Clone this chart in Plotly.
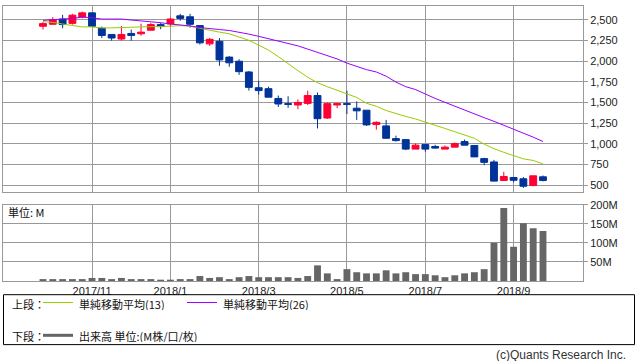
import plotly.graph_objects as go

weeks = [
    "2017/10/02", "2017/10/09", "2017/10/16", "2017/10/23", "2017/10/30",
    "2017/11/06", "2017/11/13", "2017/11/20", "2017/11/27", "2017/12/04",
    "2017/12/11", "2017/12/18", "2017/12/25", "2018/01/01", "2018/01/08",
    "2018/01/15", "2018/01/22", "2018/01/29", "2018/02/05", "2018/02/12",
    "2018/02/19", "2018/02/26", "2018/03/05", "2018/03/12", "2018/03/19",
    "2018/03/26", "2018/04/02", "2018/04/09", "2018/04/16", "2018/04/23",
    "2018/04/30", "2018/05/07", "2018/05/14", "2018/05/21", "2018/05/28",
    "2018/06/04", "2018/06/11", "2018/06/18", "2018/06/25", "2018/07/02",
    "2018/07/09", "2018/07/16", "2018/07/23", "2018/07/30", "2018/08/06",
    "2018/08/13", "2018/08/20", "2018/08/27", "2018/09/03", "2018/09/10",
    "2018/09/17", "2018/09/24",
]

opens = [2421, 2445, 2508, 2456, 2532, 2583, 2397, 2322, 2267, 2334,
         2330, 2373, 2441, 2449, 2547, 2536, 2429, 2208, 2239, 2048,
         1998, 1868, 1678, 1666, 1548, 1485, 1469, 1488, 1583, 1311,
         1469, 1485, 1430, 1406, 1232, 1216, 1062, 1050, 935, 990,
         967, 935, 959, 1026, 979, 820, 780, 556, 592, 576,
         494, 600]
highs = [2476, 2532, 2559, 2571, 2599, 2586, 2417, 2322, 2425, 2381,
         2452, 2460, 2460, 2524, 2571, 2571, 2429, 2279, 2279, 2059,
         2022, 1880, 1761, 1690, 1583, 1575, 1536, 1642, 1619, 1500,
         1493, 1642, 1512, 1406, 1271, 1288, 1098, 1050, 1003, 990,
         987, 979, 1014, 1050, 979, 830, 805, 660, 594, 598,
         612, 616]
lows = [2381, 2444, 2397, 2441, 2516, 2421, 2279, 2247, 2247, 2247,
        2306, 2373, 2385, 2417, 2488, 2405, 2200, 2184, 1943, 1931,
        1833, 1643, 1595, 1563, 1445, 1434, 1418, 1469, 1185, 1299,
        1430, 1359, 1288, 1216, 1169, 1062, 1026, 923, 935, 904,
        939, 935, 959, 983, 841, 740, 545, 556, 535, 466,
        486, 545]
closes = [2453, 2500, 2441, 2555, 2583, 2421, 2310, 2279, 2322, 2310,
          2350, 2441, 2417, 2508, 2516, 2445, 2220, 2263, 2014, 1979,
          1872, 1682, 1643, 1563, 1481, 1477, 1500, 1583, 1303, 1485,
          1485, 1477, 1398, 1228, 1259, 1066, 1038, 935, 983, 935,
          947, 959, 1003, 983, 841, 775, 548, 604, 558, 486,
          612, 556]

ma13 = [2476, 2468, 2448, 2429, 2413, 2413, 2401, 2401, 2401, 2409,
        2413, 2413, 2413, 2421, 2429, 2421, 2397, 2370, 2350, 2330,
        2290, 2251, 2192, 2133, 2054, 1967, 1884, 1805, 1738, 1690,
        1647, 1599, 1560, 1489, 1453, 1402, 1362, 1330, 1300, 1264,
        1224, 1185, 1145, 1106, 1066, 995, 940, 896, 857, 817,
        798, 756]
ma26 = [2492, 2504, 2508, 2516, 2532, 2524, 2508, 2508, 2508, 2496,
        2488, 2476, 2464, 2448, 2437, 2425, 2405, 2389, 2381, 2370,
        2350, 2326, 2299, 2271, 2239, 2212, 2184, 2145, 2105, 2065,
        2026, 1975, 1935, 1896, 1868, 1817, 1746, 1690, 1655, 1599,
        1548, 1501, 1453, 1410, 1362, 1315, 1271, 1224, 1183, 1131,
        1080, 1027]

volume_m = [5, 5, 5, 5, 5, 8, 8, 5, 8, 5,
            5, 5, 3, 2, 5, 5, 13, 8, 10, 5,
            10, 13, 10, 10, 10, 10, 8, 13, 41, 20,
            5, 31, 23, 20, 20, 28, 20, 23, 18, 18,
            15, 10, 15, 20, 23, 31, 100, 191, 90, 151,
            138, 131]

tick_weeks = ["2017/11/06", "2018/01/01", "2018/03/05", "2018/05/07", "2018/07/02", "2018/09/03"]
tick_labels = ["2017/11", "2018/1", "2018/3", "2018/5", "2018/7", "2018/9"]
price_ticks = [500, 750, 1000, 1250, 1500, 1750, 2000, 2250, 2500]
vol_ticks = [50, 100, 150, 200]
vol_tick_labels = ["50M", "100M", "150M", "200M"]

UP = "#FF0033"
DOWN = "#003399"
GREEN = "#99CC00"
PURPLE = "#9900FF"
GRID = "#999999"
TXT = "#222222"
FONT = "Liberation Sans, Arial, sans-serif"
JFONT = "Noto Sans CJK JP, sans-serif"

W, H = 638, 362
L, R, T, B = 3, 55, 0, 81
PH = H - T - B  # plot-area height in px


def px_x(p):
    return (p - L) / (W - L - R)


def px_y(p):
    return (PH - p) / PH


fig = go.Figure()
fig.add_trace(go.Candlestick(
    x=weeks, open=opens, high=highs, low=lows, close=closes,
    increasing=dict(line=dict(color=UP, width=1), fillcolor=UP),
    decreasing=dict(line=dict(color=DOWN, width=1), fillcolor=DOWN),
    whiskerwidth=0, xaxis="x", yaxis="y", showlegend=False,
))
fig.add_trace(go.Scatter(x=weeks, y=ma13, mode="lines", line=dict(color=GREEN, width=1),
                         xaxis="x", yaxis="y", showlegend=False))
fig.add_trace(go.Scatter(x=weeks, y=ma26, mode="lines", line=dict(color=PURPLE, width=1),
                         xaxis="x", yaxis="y", showlegend=False))
fig.add_trace(go.Bar(x=weeks, y=volume_m, marker=dict(color="#666666", line=dict(width=0)),
                     width=0.7, xaxis="x2", yaxis="y2", showlegend=False))

xr = [-4.08, 55.08]
axis_common = dict(showline=True, linecolor=GRID, linewidth=1, mirror=True,
                   gridcolor=GRID, gridwidth=1, zeroline=False)

fig.update_layout(
    width=W, height=H,
    margin=dict(l=L, r=R, t=T, b=B),
    paper_bgcolor="white", plot_bgcolor="white",
    showlegend=False,
    boxgap=0.3, boxgroupgap=0,
    font=dict(family=FONT, size=11, color=TXT),
    xaxis=dict(type="category", range=xr, domain=[0, 1], anchor="y",
               tickmode="array", tickvals=tick_weeks, ticktext=tick_labels,
               showticklabels=False, ticks="", rangeslider=dict(visible=False),
               **axis_common),
    yaxis=dict(domain=[px_y(190), 1], range=[417, 2666], side="right",
               tickmode="array", tickvals=price_ticks, tickformat=",",
               ticks="outside", ticklen=4, tickcolor=GRID,
               tickfont=dict(family=FONT, size=11, color=TXT), **axis_common),
    xaxis2=dict(type="category", range=xr, domain=[0, 1], anchor="y2",
                tickmode="array", tickvals=tick_weeks, ticktext=tick_labels,
                showticklabels=True, ticks="", tickfont=dict(family=FONT, size=11, color=TXT),
                **axis_common),
    yaxis2=dict(domain=[0, px_y(203)], range=[0, 200], side="right",
                tickmode="array", tickvals=vol_ticks, ticktext=vol_tick_labels,
                ticks="outside", ticklen=4, tickcolor=GRID,
                tickfont=dict(family=FONT, size=11, color=TXT), **axis_common),
)

shapes = []
annotations = []
# legend box
shapes.append(dict(type="rect", xref="paper", yref="paper",
                   x0=px_x(3.5), x1=px_x(634.5), y0=px_y(346), y1=px_y(295),
                   line=dict(color="#000000", width=1), fillcolor="rgba(0,0,0,0)"))
# legend lines
shapes.append(dict(type="line", xref="paper", yref="paper", x0=px_x(43), x1=px_x(73),
                   y0=px_y(303), y1=px_y(303), line=dict(color=GREEN, width=1)))
shapes.append(dict(type="line", xref="paper", yref="paper", x0=px_x(187), x1=px_x(217),
                   y0=px_y(303), y1=px_y(303), line=dict(color=PURPLE, width=1)))
shapes.append(dict(type="line", xref="paper", yref="paper", x0=px_x(43), x1=px_x(73),
                   y0=px_y(336.5), y1=px_y(336.5), line=dict(color="#666666", width=3)))


def txt(s, x, y, xanchor="left", size=11, family=JFONT, color="#111111"):
    annotations.append(dict(text=s, x=px_x(x), y=px_y(y), xref="paper", yref="paper",
                            xanchor=xanchor, yanchor="middle", showarrow=False,
                            borderpad=0, height=13,
                            font=dict(family=family, size=size, color=color)))


txt("上段：", 11, 303.5)
txt("単純移動平均(13)", 78, 303.5)
txt("単純移動平均(26)", 222, 303.5)
txt("下段：", 11, 337)
txt("出来高 単位:(M株/口/枚)", 78, 337)
txt("単位: M", 7, 210)
txt("(c)Quants Research Inc.", 627, 356, xanchor="right", size=12, family=FONT, color="#333333")

fig.update_layout(shapes=shapes, annotations=annotations)
fig.write_html("out.html", config={"displayModeBar": False},
               post_script="document.body.style.margin='0px';document.body.style.overflow='hidden';")
